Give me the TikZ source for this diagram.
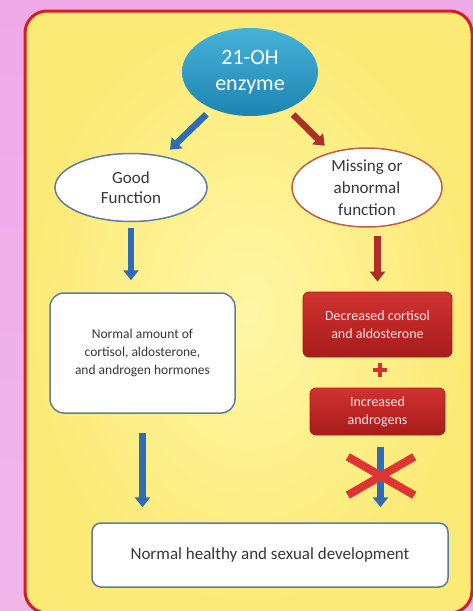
\documentclass[tikz,border=0pt]{standalone}
\usepackage{fontspec}
\setmainfont{Carlito}
\usetikzlibrary{shapes.geometric,arrows.meta,calc}
\definecolor{bgpinkA}{RGB}{240,182,234}
\definecolor{bgpinkB}{RGB}{238,170,232}
\definecolor{yelA}{RGB}{254,246,165}
\definecolor{yelB}{RGB}{252,234,118}
\definecolor{frame}{RGB}{214,30,30}
\definecolor{tealA}{RGB}{70,178,216}
\definecolor{tealB}{RGB}{28,132,178}
\definecolor{arrblue}{RGB}{46,108,182}
\definecolor{arrred}{RGB}{172,48,40}
\definecolor{boxredA}{RGB}{208,50,48}
\definecolor{boxredB}{RGB}{168,28,28}
\definecolor{bluegray}{RGB}{92,126,160}
\definecolor{brownred}{RGB}{190,96,72}
\definecolor{txt}{RGB}{55,55,55}
\definecolor{redtxt}{RGB}{252,228,222}
\definecolor{xred}{RGB}{222,52,52}
\tikzset{
  ovalnode/.style={ellipse, inner sep=0pt, align=center, text=txt},
  whitebox/.style={rectangle, rounded corners=14pt, fill=white, draw=bluegray, line width=1.5pt, align=center, text=txt, inner sep=0pt},
  redbox/.style={rectangle, rounded corners=6pt, top color=boxredA, bottom color=boxredB, draw=boxredB, line width=0.8pt, align=center, text=redtxt, inner sep=0pt, font=\fontsize{14}{18}\selectfont},
  bluearrow/.style={draw=arrblue, line width=6.5pt, -{Triangle[width=15pt,length=10pt]}},
  redarrow/.style={draw=arrred, line width=6.5pt, -{Triangle[width=15pt,length=10pt]}},
}
\begin{document}
\begin{tikzpicture}[x=1pt,y=-1pt]
\useasboundingbox (0,0) rectangle (473,611);
% background
\shade[top color=bgpinkB, bottom color=bgpinkA] (0,0) rectangle (473,611);
% yellow panel
\shade[inner color=yelA, outer color=yelB, rounded corners=22pt] (25,11) rectangle (472,613);
\draw[frame, line width=3pt, rounded corners=22pt] (25,11) rectangle (472,613);

% nodes
\node[ovalnode, minimum width=136pt, minimum height=88pt, top color=tealA, bottom color=tealB, text=white,
      font=\fontsize{22}{26}\selectfont] (oh) at (250,72) {21-OH\\enzyme};
\node[ovalnode, minimum width=152pt, minimum height=68pt, fill=white, draw=bluegray, line width=1.5pt,
      font=\fontsize{17}{20}\selectfont] (good) at (131,187.5) {Good\\Function};
\node[ovalnode, minimum width=150pt, minimum height=70pt, fill=white, draw=brownred, line width=1.5pt,
      font=\fontsize{17}{22}\selectfont] (miss) at (367,187.5) {Missing or\\abnormal\\function};
\node[whitebox, minimum width=185pt, minimum height=120pt, font=\fontsize{13.5}{18}\selectfont] (norm) at (142.5,353)
      {Normal amount of\\cortisol, aldosterone,\\and androgen hormones};
\node[redbox, minimum width=149pt, minimum height=65pt] (dec) at (377.5,324.5) {Decreased cortisol\\and aldosterone};
\node[redbox, minimum width=135pt, minimum height=47pt] (inc) at (377.5,411.5) {Increased\\androgens};
\node[whitebox, rounded corners=9pt, minimum width=356pt, minimum height=64pt, font=\fontsize{17}{20}\selectfont] (bot) at (270,555)
      {Normal healthy and sexual development};

% plus sign
\node[inner sep=0pt, minimum size=14pt] (plus) at (380,370) {};
\fill[boxredA] ($(plus.center)+(-7,-2.2)$) rectangle ($(plus.center)+(7,2.2)$);
\fill[boxredA] ($(plus.center)+(-2.2,-7)$) rectangle ($(plus.center)+(2.2,7)$);

% arrows
\draw[bluearrow, shorten <=8pt, shorten >=9pt] (oh) -- (good);
\draw[redarrow, shorten <=8pt, shorten >=9pt] (oh) -- (miss);
\draw[bluearrow, shorten <=6pt, shorten >=12pt] (good.south) -- (good.south |- norm.north);
\draw[redarrow, shorten <=8pt, shorten >=10pt] (dec.north |- miss.south) -- (dec.north);
\draw[bluearrow, shorten <=19pt, shorten >=15pt] (norm.south) -- (norm.south |- bot.north);
\draw[bluearrow, shorten <=12pt, shorten >=15pt] ($(inc.south)+(3,0)$) coordinate (ia) -- (ia |- bot.north);

% red cross over the blocked arrow
\node[inner sep=0pt, minimum width=66pt, minimum height=38pt] (cross) at (381,476) {};
\draw[xred, line width=8pt] (cross.north west) -- (cross.south east);
\draw[xred, line width=8pt] (cross.south west) -- (cross.north east);
\end{tikzpicture}
\end{document}
